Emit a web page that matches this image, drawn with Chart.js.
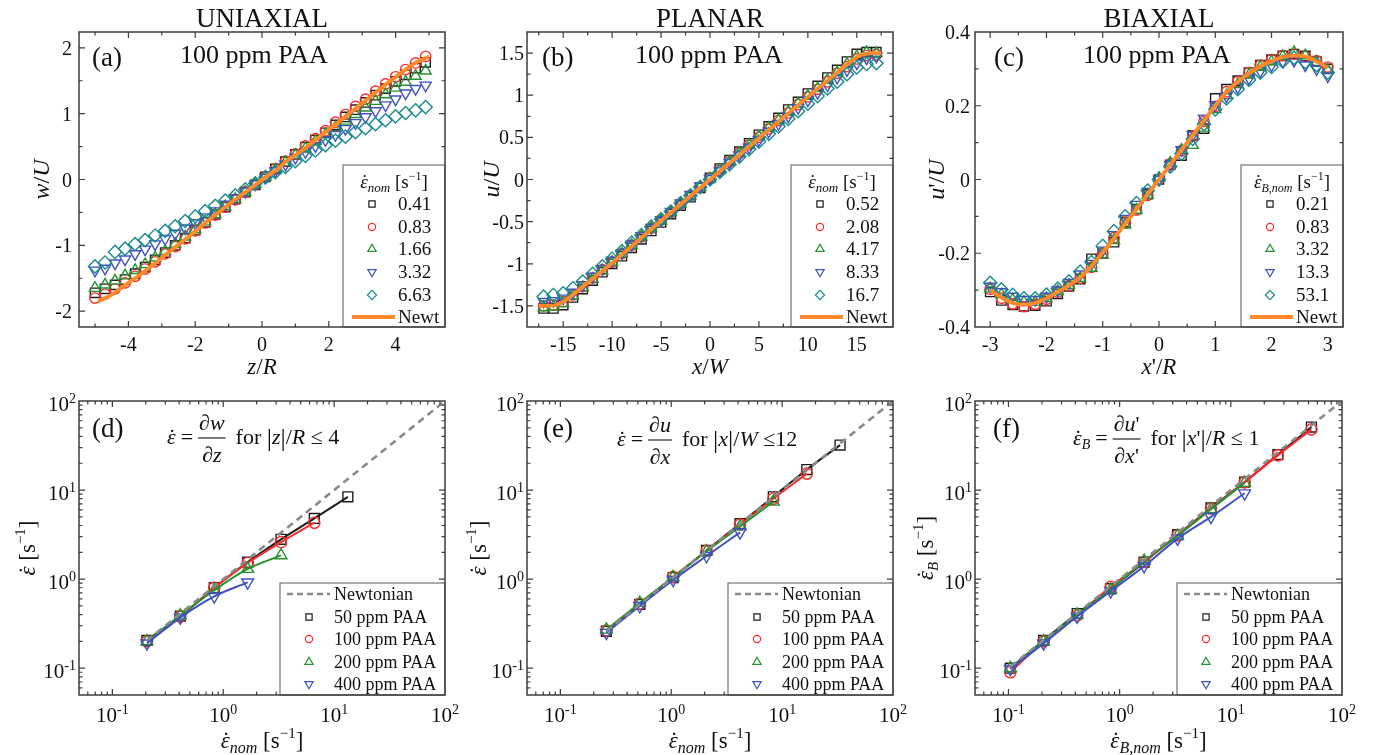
<!DOCTYPE html>
<html>
<head>
<meta charset="utf-8">
<title>Velocity profiles and measured strain rates</title>
<script src="https://cdn.jsdelivr.net/npm/chart.js@4.4.1/dist/chart.umd.min.js"></script>
<style>
  body { margin: 0; background: #fff; }
  #figure { position: relative; width: 1380px; height: 755px; overflow: hidden; background: #fff; }
  #figure canvas { position: absolute; }
</style>
</head>
<body>
<div id="figure">
  <canvas id="chartA" width="460" height="380" style="left:0;top:0"></canvas>
  <canvas id="chartB" width="460" height="380" style="left:460px;top:0"></canvas>
  <canvas id="chartC" width="480" height="380" style="left:900px;top:0"></canvas>
  <canvas id="chartD" width="460" height="375" style="left:0;top:380px"></canvas>
  <canvas id="chartE" width="460" height="375" style="left:460px;top:380px"></canvas>
  <canvas id="chartF" width="480" height="375" style="left:900px;top:380px"></canvas>
</div>
<script>
const SERIF = '"Liberation Serif", "Times New Roman", Times, serif';
const INK = '#111111';
const FRAME = '#3c3c3c';
const C_BLACK = '#1c1c1c', C_RED = '#ff2b2b', C_GREEN = '#23932f', C_BLUE = '#3f51c2',
      C_TEAL = '#198b8b', C_ORANGE = '#ff8a2a', C_GRAY = '#8a8a8a';

// ---- (a) uniaxial, 100 ppm PAA ----
const A_RATES = ['0.41', '0.83', '1.66', '3.32', '6.63'];
const A_Z = [-5.0, -4.7, -4.4, -4.1, -3.8, -3.5, -3.2, -2.9, -2.6, -2.3, -2.0, -1.7, -1.4, -1.1, -0.8, -0.5, -0.2,
             0.1, 0.4, 0.7, 1.0, 1.3, 1.6, 1.9, 2.2, 2.5, 2.8, 3.1, 3.4, 3.7, 4.0, 4.3, 4.6, 4.9];
const A_W_041 = [-1.72, -1.66, -1.60, -1.52, -1.43, -1.33, -1.22, -1.11, -1.00, -0.89, -0.77, -0.65, -0.53, -0.42, -0.30, -0.19, -0.08,
                 0.04, 0.16, 0.27, 0.38, 0.49, 0.60, 0.71, 0.83, 0.95, 1.06, 1.17, 1.28, 1.38, 1.49, 1.59, 1.69, 1.78];
const A_W_083 = [-1.80, -1.74, -1.66, -1.57, -1.47, -1.36, -1.25, -1.13, -1.02, -0.90, -0.78, -0.66, -0.54, -0.42, -0.31, -0.19, -0.07,
                 0.04, 0.16, 0.28, 0.39, 0.51, 0.62, 0.74, 0.87, 0.99, 1.11, 1.22, 1.34, 1.45, 1.56, 1.67, 1.77, 1.87];
const A_W_166 = [-1.65, -1.60, -1.54, -1.46, -1.38, -1.29, -1.19, -1.09, -0.98, -0.87, -0.76, -0.64, -0.53, -0.41, -0.30, -0.19, -0.07,
                 0.04, 0.15, 0.26, 0.37, 0.47, 0.58, 0.68, 0.79, 0.89, 0.99, 1.09, 1.19, 1.29, 1.39, 1.48, 1.57, 1.65];
const A_W_332 = [-1.38, -1.35, -1.27, -1.21, -1.13, -1.06, -0.98, -0.90, -0.82, -0.74, -0.66, -0.57, -0.48, -0.38, -0.28, -0.18, -0.07,
                 0.03, 0.13, 0.23, 0.33, 0.42, 0.51, 0.60, 0.68, 0.77, 0.86, 0.95, 1.04, 1.13, 1.22, 1.31, 1.38, 1.43];
const A_W_663 = [-1.32, -1.26, -1.10, -1.05, -0.98, -0.92, -0.85, -0.78, -0.71, -0.63, -0.56, -0.48, -0.40, -0.32, -0.24, -0.15, -0.06,
                 0.03, 0.11, 0.19, 0.28, 0.36, 0.44, 0.52, 0.59, 0.65, 0.72, 0.78, 0.84, 0.90, 0.96, 1.01, 1.05, 1.10];
const A_NEWT_Z = [-4.9, -4.6, -4.2, -3.8, -3.4, -3.0, -2.6, -2.2, -1.8, -1.4, -1.0, -0.6, -0.2, 0.2, 0.5, 0.7, 1.0,
                  1.4, 1.8, 2.2, 2.6, 3.0, 3.4, 3.8, 4.2, 4.6, 5.0];
const A_NEWT_W = [-1.85, -1.78, -1.64, -1.50, -1.35, -1.19, -1.03, -0.87, -0.70, -0.54, -0.38, -0.23, -0.08, 0.07, 0.17, 0.27, 0.37,
                  0.52, 0.68, 0.84, 1.00, 1.16, 1.32, 1.48, 1.63, 1.77, 1.87];
const A_XTICKS = [-4, -2, 0, 2, 4], A_XMINOR = [-5, -3, -1, 1, 3, 5];
const A_YTICKS = [-2, -1, 0, 1, 2], A_YMINOR = [-1.5, -0.5, 0.5, 1.5];

// ---- (b) planar, 100 ppm PAA ----
const B_RATES = ['0.52', '2.08', '4.17', '8.33', '16.7'];
const B_X = [-17, -16, -15, -14, -13, -12, -11, -10, -9, -8, -7, -6, -5, -4, -3, -2, -1, 0,
             1, 2, 3, 4, 5, 6, 7, 8, 9, 10, 11, 12, 13, 14, 15, 16, 17];
const B_U_052 = [-1.53, -1.53, -1.49, -1.40, -1.30, -1.20, -1.10, -1.00, -0.91, -0.81, -0.71, -0.61, -0.51, -0.41, -0.31, -0.21, -0.10, 0.02,
                 0.13, 0.23, 0.33, 0.43, 0.53, 0.63, 0.73, 0.83, 0.92, 1.02, 1.11, 1.21, 1.30, 1.40, 1.49, 1.51, 1.51];
const B_U_208 = [-1.50, -1.49, -1.45, -1.37, -1.27, -1.17, -1.07, -0.98, -0.88, -0.78, -0.68, -0.58, -0.48, -0.39, -0.29, -0.19, -0.09, 0.01,
                 0.11, 0.21, 0.31, 0.41, 0.50, 0.60, 0.70, 0.79, 0.89, 0.98, 1.07, 1.16, 1.26, 1.34, 1.43, 1.47, 1.48];
const B_U_417 = [-1.52, -1.51, -1.47, -1.38, -1.28, -1.18, -1.08, -0.98, -0.88, -0.78, -0.68, -0.58, -0.49, -0.39, -0.29, -0.19, -0.09, 0.01,
                 0.11, 0.21, 0.31, 0.41, 0.51, 0.61, 0.70, 0.80, 0.90, 0.99, 1.08, 1.18, 1.27, 1.37, 1.46, 1.51, 1.50];
const B_U_833 = [-1.45, -1.44, -1.41, -1.34, -1.25, -1.15, -1.06, -0.96, -0.87, -0.77, -0.67, -0.57, -0.48, -0.38, -0.28, -0.18, -0.08, 0.01,
                 0.10, 0.20, 0.29, 0.38, 0.47, 0.57, 0.66, 0.75, 0.85, 0.94, 1.03, 1.12, 1.21, 1.30, 1.38, 1.44, 1.46];
const B_U_167 = [-1.39, -1.37, -1.35, -1.29, -1.21, -1.12, -1.03, -0.94, -0.85, -0.75, -0.66, -0.56, -0.47, -0.38, -0.28, -0.19, -0.09, 0.00,
                 0.09, 0.18, 0.27, 0.36, 0.45, 0.54, 0.63, 0.72, 0.81, 0.90, 0.99, 1.08, 1.16, 1.25, 1.33, 1.37, 1.38];
const B_NEWT_X = [-17.5, -16.5, -15.5, -14.5, -13, -10, -5, 0, 5, 10, 13, 14.5, 15.5, 16.5, 17.5];
const B_NEWT_U = [-1.50, -1.50, -1.48, -1.41, -1.27, -0.99, -0.49, 0, 0.49, 0.98, 1.27, 1.41, 1.48, 1.50, 1.50];
const B_XTICKS = [-15, -10, -5, 0, 5, 10, 15], B_XMINOR = [-17.5, -12.5, -7.5, -2.5, 2.5, 7.5, 12.5, 17.5];
const B_YTICKS = [-1.5, -1, -0.5, 0, 0.5, 1, 1.5], B_YMINOR = [-1.25, -0.75, -0.25, 0.25, 0.75, 1.25];

// ---- (c) biaxial, 100 ppm PAA ----
const C_RATES = ['0.21', '0.83', '3.32', '13.3', '53.1'];
const C_X = [-3.0, -2.8, -2.6, -2.4, -2.2, -2.0, -1.8, -1.6, -1.4, -1.2, -1.0, -0.8, -0.6, -0.4, -0.2, 0,
             0.2, 0.4, 0.6, 0.8, 1.0, 1.2, 1.4, 1.6, 1.8, 2.0, 2.2, 2.4, 2.6, 2.8, 3.0];
const C_U_021 = [-0.305, -0.328, -0.340, -0.344, -0.342, -0.330, -0.310, -0.290, -0.270, -0.215, -0.200, -0.170, -0.115, -0.080, -0.040, 0.000,
                 0.040, 0.065, 0.120, 0.138, 0.220, 0.245, 0.268, 0.290, 0.310, 0.325, 0.335, 0.340, 0.335, 0.320, 0.300];
const C_U_083 = [-0.298, -0.322, -0.337, -0.345, -0.338, -0.325, -0.305, -0.288, -0.268, -0.238, -0.200, -0.158, -0.118, -0.083, -0.043, 0.000,
                 0.042, 0.078, 0.118, 0.158, 0.198, 0.238, 0.265, 0.290, 0.310, 0.325, 0.336, 0.340, 0.334, 0.322, 0.305];
const C_U_332 = [-0.296, -0.312, -0.326, -0.332, -0.332, -0.322, -0.303, -0.287, -0.268, -0.240, -0.205, -0.165, -0.123, -0.083, -0.042, 0.004,
                 0.045, 0.080, 0.093, 0.140, 0.190, 0.228, 0.258, 0.284, 0.305, 0.320, 0.334, 0.345, 0.336, 0.318, 0.297];
const C_U_133 = [-0.290, -0.305, -0.317, -0.326, -0.326, -0.317, -0.300, -0.280, -0.257, -0.228, -0.192, -0.150, -0.106, -0.068, -0.033, 0.000,
                 0.040, 0.080, 0.120, 0.166, 0.202, 0.226, 0.250, 0.274, 0.294, 0.310, 0.320, 0.322, 0.310, 0.300, 0.280];
const C_U_531 = [-0.280, -0.298, -0.313, -0.322, -0.322, -0.312, -0.296, -0.276, -0.250, -0.224, -0.180, -0.140, -0.100, -0.064, -0.030, 0.000,
                 0.035, 0.070, 0.110, 0.150, 0.190, 0.220, 0.245, 0.270, 0.290, 0.305, 0.320, 0.330, 0.318, 0.310, 0.290];
const C_NEWT_U = [-0.300, -0.320, -0.335, -0.340, -0.335, -0.322, -0.305, -0.287, -0.265, -0.235, -0.198, -0.160, -0.120, -0.080, -0.040, 0.000,
                  0.040, 0.080, 0.120, 0.160, 0.200, 0.237, 0.265, 0.288, 0.307, 0.321, 0.332, 0.336, 0.333, 0.320, 0.303];
const C_XTICKS = [-3, -2, -1, 0, 1, 2, 3], C_XMINOR = [-2.5, -1.5, -0.5, 0.5, 1.5, 2.5];
const C_YTICKS = [-0.4, -0.2, 0, 0.2, 0.4], C_YMINOR = [-0.3, -0.1, 0.1, 0.3];

// ---- (d)-(f) measured vs nominal strain rate ----
const CONC_LABELS = ['50 ppm PAA', '100 ppm PAA', '200 ppm PAA', '400 ppm PAA'];
const D_RATE = [0.205, 0.41, 0.83, 1.66, 3.32, 6.63, 13.3];
const D_50 = [0.205, 0.385, 0.80, 1.55, 2.8, 4.8, 8.4];
const D_100 = [0.20, 0.38, 0.80, 1.52, 2.6, 4.3];
const D_200 = [0.20, 0.39, 0.75, 1.30, 1.85];
const D_400 = [0.19, 0.37, 0.64, 0.92];
const D_NEWT = [0.205, 100];

const E_RATE = [0.26, 0.52, 1.04, 2.08, 4.17, 8.33, 16.7, 33.3];
const E_50 = [0.26, 0.52, 1.04, 2.1, 4.2, 8.4, 17.0, 32];
const E_100 = [0.265, 0.53, 1.06, 2.08, 4.1, 8.0, 15.3];
const E_200 = [0.27, 0.54, 1.05, 2.05, 3.9, 7.4];
const E_400 = [0.25, 0.50, 0.98, 1.82, 3.35];
const E_NEWT = [0.26, 100];

const F_RATE = [0.104, 0.207, 0.415, 0.83, 1.66, 3.32, 6.63, 13.3, 26.5, 53.1];
const F_50 = [0.10, 0.205, 0.41, 0.78, 1.55, 3.15, 6.3, 12.3, 25, 51];
const F_100 = [0.09, 0.20, 0.39, 0.82, 1.56, 3.1, 6.2, 12.2, 24.5, 48];
const F_200 = [0.10, 0.20, 0.40, 0.76, 1.6, 3.05, 6.1, 12.0];
const F_400 = [0.098, 0.19, 0.38, 0.73, 1.4, 2.85, 5.0, 9.2];
const F_NEWT = [0.104, 100];

const LOG_LABELS = [0.1, 1, 10, 100];
const LOG_EXPS = ['-1', '0', '1', '2'];
const LOG_MINOR = [];
[0.01, 0.1, 1, 10].forEach(dec => {
  for (let k = 2; k <= 9; k++) {
    const v = k * dec;
    if (v > 0.05 && v < 100) LOG_MINOR.push(v);
  }
});

const MARKERS = [
  { style: 'rect', rot: 0, color: C_BLACK, r: 6.6, rl: 4.4 },
  { style: 'circle', rot: 0, color: C_RED, r: 5.2, rl: 3.6 },
  { style: 'triangle', rot: 0, color: C_GREEN, r: 6.4, rl: 4.8 },
  { style: 'triangle', rot: 180, color: C_BLUE, r: 6.4, rl: 4.8 },
  { style: 'rectRot', rot: 0, color: C_TEAL, r: 6.6, rl: 4.6 }
];

// ---------- text helpers ----------
const R = (t, s, o = {}) => Object.assign({ t, s }, o);
const eps = s => R('ε', s, { i: true, dot: true });

function setFont(ctx, size, italic) {
  ctx.font = (italic ? 'italic ' : '') + size + 'px ' + SERIF;
}
function runsWidth(ctx, runs) {
  let w = 0;
  runs.forEach(r => { setFont(ctx, r.s, r.i); w += ctx.measureText(r.t).width; });
  return w;
}
function drawRuns(ctx, runs, x, y) {
  ctx.textAlign = 'left';
  ctx.textBaseline = 'alphabetic';
  ctx.fillStyle = INK;
  runs.forEach(r => {
    setFont(ctx, r.s, r.i);
    const w = ctx.measureText(r.t).width;
    ctx.fillText(r.t, x, y + (r.dy || 0));
    if (r.dot) {
      setFont(ctx, r.s, false);
      ctx.textAlign = 'center';
      ctx.fillText('˙', x + w * 0.6, y + (r.dy || 0));
      ctx.textAlign = 'left';
    }
    x += w;
  });
  return x;
}
function drawCentered(ctx, runs, cx, y) {
  drawRuns(ctx, runs, cx - runsWidth(ctx, runs) / 2, y);
}
function drawRight(ctx, runs, rx, y) {
  drawRuns(ctx, runs, rx - runsWidth(ctx, runs), y);
}
function drawRotated(ctx, runs, x, cy) {
  const w = runsWidth(ctx, runs);
  ctx.save();
  ctx.translate(x, cy);
  ctx.rotate(-Math.PI / 2);
  drawRuns(ctx, runs, -w / 2, 0);
  ctx.restore();
}
function drawFormula(ctx, f, x, y) {
  x = drawRuns(ctx, f.lhs, x, y) + 5;
  x = drawRuns(ctx, [R('=', 22)], x, y) + 5;
  const wn = runsWidth(ctx, f.num), wd = runsWidth(ctx, f.den), w = Math.max(wn, wd) + 2;
  drawRuns(ctx, f.num, x + (w - wn) / 2, y - 14);
  drawRuns(ctx, f.den, x + (w - wd) / 2, y + 18);
  ctx.strokeStyle = INK;
  ctx.lineWidth = 1.1;
  ctx.beginPath();
  ctx.moveTo(x, y - 6);
  ctx.lineTo(x + w, y - 6);
  ctx.stroke();
  drawRuns(ctx, f.tail, x + w + 10, y);
}
function drawPower(ctx, exp, x, y, align) {
  setFont(ctx, 21, false);
  const wb = ctx.measureText('10').width;
  setFont(ctx, 14, false);
  const we = ctx.measureText(exp).width;
  const x0 = align === 'center' ? x - (wb + we) / 2 : x - wb - we;
  ctx.fillStyle = INK;
  ctx.textAlign = 'left';
  ctx.textBaseline = 'alphabetic';
  setFont(ctx, 21, false);
  ctx.fillText('10', x0, y);
  setFont(ctx, 14, false);
  ctx.fillText(exp, x0 + wb, y - 8);
}

// ---------- frame, ticks, legend and labels ----------
function makeDecor(p) {
  return {
    id: 'decor',
    afterDraw(chart) {
      const ctx = chart.ctx, a = chart.chartArea;
      const sx = chart.scales.x, sy = chart.scales.y;
      ctx.save();

      // inward ticks on all four sides
      ctx.strokeStyle = FRAME;
      ctx.lineWidth = 1.2;
      ctx.beginPath();
      const tickX = (vals, len) => vals.forEach(v => {
        const px = sx.getPixelForValue(v);
        if (px <= a.left + 1 || px >= a.right - 1) return;
        ctx.moveTo(px, a.bottom); ctx.lineTo(px, a.bottom - len);
        ctx.moveTo(px, a.top); ctx.lineTo(px, a.top + len);
      });
      const tickY = (vals, len) => vals.forEach(v => {
        const py = sy.getPixelForValue(v);
        if (py <= a.top + 1 || py >= a.bottom - 1) return;
        ctx.moveTo(a.left, py); ctx.lineTo(a.left + len, py);
        ctx.moveTo(a.right, py); ctx.lineTo(a.right - len, py);
      });
      tickX(p.x.major, 6); tickX(p.x.minor, 3.5);
      tickY(p.y.major, 6); tickY(p.y.minor, 3.5);
      ctx.stroke();

      // legend box in the lower right corner
      const L = p.legend;
      const bx = a.right - L.w, by = L.top;
      ctx.fillStyle = '#fff';
      ctx.fillRect(bx, by, a.right - bx, a.bottom - by);
      ctx.strokeStyle = '#747474';
      ctx.lineWidth = 1.2;
      ctx.strokeRect(bx, by, a.right - bx, a.bottom - by);
      if (L.title) drawCentered(ctx, L.title, bx + (a.right - bx) / 2, by + L.titleY);
      L.rows.forEach((row, i) => {
        const cy = by + L.rowY[i];
        if (row.line) {
          ctx.strokeStyle = row.color;
          ctx.lineWidth = row.width;
          ctx.setLineDash(row.dash || []);
          ctx.beginPath();
          ctx.moveTo(bx + L.line0, cy);
          ctx.lineTo(bx + L.line1, cy);
          ctx.stroke();
          ctx.setLineDash([]);
        } else {
          ctx.strokeStyle = row.m.color;
          ctx.fillStyle = 'rgba(0,0,0,0)';
          ctx.lineWidth = 1.2;
          Chart.helpers.drawPoint(ctx, { pointStyle: row.m.style, rotation: row.m.rot, radius: row.m.rl, borderWidth: 1.2 }, bx + L.markX, cy);
        }
        drawRuns(ctx, [R(row.label, L.size)], bx + L.textX, cy + L.base);
      });

      // plot frame
      ctx.strokeStyle = FRAME;
      ctx.lineWidth = 1.5;
      ctx.strokeRect(a.left, a.top, a.right - a.left, a.bottom - a.top);

      // tick labels
      if (p.log) {
        LOG_LABELS.forEach((v, i) => {
          drawPower(ctx, LOG_EXPS[i], sx.getPixelForValue(v), a.bottom + 27, 'center');
          drawPower(ctx, LOG_EXPS[i], a.left - 3, sy.getPixelForValue(v) + 10, 'right');
        });
      } else {
        p.x.major.forEach(v => drawCentered(ctx, [R(String(v), 20)], sx.getPixelForValue(v), a.bottom + 24));
        p.y.major.forEach(v => drawRight(ctx, [R(String(v), 20)], a.left - p.y.gap, sy.getPixelForValue(v) + 7));
      }

      const cx = (a.left + a.right) / 2;
      if (p.title) drawCentered(ctx, [R(p.title, 27)], cx, 27);
      drawRuns(ctx, [R(p.letter.t, 27)], p.letter.x, p.letter.y);
      if (p.note) drawRuns(ctx, [R(p.note.t, 26)], p.note.x, p.note.y);
      if (p.formula) drawFormula(ctx, p.formula, p.formula.x, p.formula.y);
      drawCentered(ctx, p.xTitle.runs, cx, p.xTitle.y);
      drawRotated(ctx, p.yTitle.runs, p.yTitle.x, (a.top + a.bottom) / 2);
      ctx.restore();
    }
  };
}

// ---------- datasets ----------
const toXY = (xs, ys) => ys.map((y, i) => ({ x: xs[i], y }));

function profileSets(xs, series, newtX, newtY) {
  const sets = [{
    label: 'Newt', data: toXY(newtX, newtY), showLine: true, pointRadius: 0,
    borderColor: C_ORANGE, borderWidth: 3.8, cubicInterpolationMode: 'monotone', order: 0
  }];
  series.forEach((ys, i) => {
    const m = MARKERS[i];
    sets.push({
      data: toXY(xs, ys), showLine: false, order: 5 - i,
      pointStyle: m.style, pointRotation: m.rot, pointRadius: m.r,
      pointBorderColor: m.color, pointBackgroundColor: 'rgba(0,0,0,0)', pointBorderWidth: 1.4,
      borderColor: m.color
    });
  });
  return sets;
}

function rateSets(xs, series, newt) {
  const sets = [{
    label: 'Newtonian', data: toXY(newt, newt), showLine: true, pointRadius: 0,
    borderColor: C_GRAY, borderWidth: 2.6, borderDash: [7, 5], order: 0
  }];
  series.forEach((ys, i) => {
    const m = MARKERS[i];
    sets.push({
      label: CONC_LABELS[i], data: toXY(xs, ys), showLine: true, order: 4 - i,
      borderColor: m.color, borderWidth: 2, cubicInterpolationMode: 'monotone',
      pointStyle: m.style, pointRotation: m.rot, pointRadius: m.r + 0.4,
      pointBorderColor: m.color, pointBackgroundColor: 'rgba(0,0,0,0)', pointBorderWidth: 1.4
    });
  });
  return sets;
}

function topLegend(rates, title) {
  const rows = rates.map((t, i) => ({ m: MARKERS[i], label: t }));
  rows.push({ line: true, color: C_ORANGE, width: 3.8, label: 'Newt' });
  return { w: 102, top: 165, title, titleY: 23, rows, rowY: [39, 62, 84, 107, 130, 152],
           markX: 29, textX: 55, line0: 9, line1: 52, base: 6, size: 19 };
}
function rateLegend() {
  const rows = [{ line: true, color: C_GRAY, width: 2.6, dash: [6, 4], label: 'Newtonian' }];
  CONC_LABELS.forEach((t, i) => rows.push({ m: MARKERS[i], label: t }));
  return { w: 165, top: 203, rows, rowY: [11, 34, 56, 79, 101],
           markX: 29, textX: 54, line0: 7, line1: 50, base: 6, size: 18 };
}

// ---------- chart construction ----------
function axis(kind, range, fit) {
  return {
    type: kind, min: range.min, max: range.max,
    grid: { display: false, drawTicks: false },
    border: { display: false },
    ticks: { display: false },
    afterFit: fit
  };
}

function makePanel(id, p) {
  const canvas = document.getElementById(id);
  const W = canvas.width, H = canvas.height;
  const kind = p.log ? 'logarithmic' : 'linear';
  return new Chart(canvas, {
    type: 'line',
    data: { datasets: p.datasets },
    options: {
      responsive: false,
      animation: false,
      events: [],
      layout: { padding: { left: 0, right: W - p.area.right, top: p.area.top, bottom: 0 } },
      plugins: { legend: { display: false }, tooltip: { enabled: false } },
      scales: {
        x: axis(kind, p.x, s => { s.height = H - p.area.bottom; }),
        y: axis(kind, p.y, s => { s.width = p.area.left; })
      }
    },
    plugins: [makeDecor(p)]
  });
}

const NOM_TITLE = [eps(19), R('nom', 13, { i: true, dy: 4 }), R(' [s', 19), R('−1', 12, { dy: -8 }), R(']', 19)];
const B_NOM_TITLE = [eps(19), R('B,nom', 12, { i: true, dy: 4 }), R(' [s', 19), R('−1', 12, { dy: -8 }), R(']', 19)];
const NOM_X = [eps(23), R('nom', 16, { i: true, dy: 5 }), R(' [s', 23), R('−1', 15, { dy: -10 }), R(']', 23)];
const B_NOM_X = [eps(23), R('B,nom', 16, { i: true, dy: 5 }), R(' [s', 23), R('−1', 15, { dy: -10 }), R(']', 23)];
const EPS_Y = [eps(23), R(' [s', 23), R('−1', 15, { dy: -10 }), R(']', 23)];
const B_EPS_Y = [eps(23), R('B', 15, { i: true, dy: 5 }), R(' [s', 23), R('−1', 15, { dy: -10 }), R(']', 23)];
const bar = () => R('|', 26, { dy: 2 });

makePanel('chartA', {
  area: { left: 79, right: 445, top: 32, bottom: 327 },
  x: { min: -5.48, max: 5.48, major: A_XTICKS, minor: A_XMINOR },
  y: { min: -2.24, max: 2.24, major: A_YTICKS, minor: A_YMINOR, gap: 7 },
  datasets: profileSets(A_Z, [A_W_041, A_W_083, A_W_166, A_W_332, A_W_663], A_NEWT_Z, A_NEWT_W),
  title: 'UNIAXIAL', letter: { t: '(a)', x: 92, y: 66 }, note: { t: '100 ppm PAA', x: 180, y: 63 },
  xTitle: { runs: [R('z', 23, { i: true }), R('/', 23), R('R', 23, { i: true })], y: 374 },
  yTitle: { runs: [R('w', 24, { i: true }), R('/', 24), R('U', 24, { i: true })], x: 49 },
  legend: topLegend(A_RATES, NOM_TITLE)
});

makePanel('chartB', {
  area: { left: 67, right: 433, top: 32, bottom: 327 },
  x: { min: -18.7, max: 18.7, major: B_XTICKS, minor: B_XMINOR },
  y: { min: -1.75, max: 1.75, major: B_YTICKS, minor: B_YMINOR, gap: 3 },
  datasets: profileSets(B_X, [B_U_052, B_U_208, B_U_417, B_U_833, B_U_167], B_NEWT_X, B_NEWT_U),
  title: 'PLANAR', letter: { t: '(b)', x: 82, y: 66 }, note: { t: '100 ppm PAA', x: 175, y: 63 },
  xTitle: { runs: [R('x', 23, { i: true }), R('/', 23), R('W', 23, { i: true })], y: 374 },
  yTitle: { runs: [R('u', 24, { i: true }), R('/', 24), R('U', 24, { i: true })], x: 39 },
  legend: topLegend(B_RATES, NOM_TITLE)
});

makePanel('chartC', {
  area: { left: 75, right: 443, top: 32, bottom: 327 },
  x: { min: -3.27, max: 3.27, major: C_XTICKS, minor: C_XMINOR },
  y: { min: -0.4, max: 0.4, major: C_YTICKS, minor: C_YMINOR, gap: 5 },
  datasets: profileSets(C_X, [C_U_021, C_U_083, C_U_332, C_U_133, C_U_531], C_X, C_NEWT_U),
  title: 'BIAXIAL', letter: { t: '(c)', x: 94, y: 66 }, note: { t: '100 ppm PAA', x: 183, y: 63 },
  xTitle: { runs: [R('x', 23, { i: true }), R("'", 23), R('/', 23), R('R', 23, { i: true })], y: 374 },
  yTitle: { runs: [R('u', 24, { i: true }), R("'", 24), R('/', 24), R('U', 24, { i: true })], x: 44 },
  legend: topLegend(C_RATES, B_NOM_TITLE)
});

const LOG_RANGE = () => ({ min: 0.05, max: 100, major: [0.1, 1, 10], minor: LOG_MINOR });

makePanel('chartD', {
  log: true,
  area: { left: 79, right: 445, top: 21, bottom: 315 },
  x: LOG_RANGE(), y: LOG_RANGE(),
  datasets: rateSets(D_RATE, [D_50, D_100, D_200, D_400], D_NEWT),
  letter: { t: '(d)', x: 92, y: 57 },
  formula: {
    x: 167, y: 64,
    lhs: [eps(22)],
    num: [R('∂', 22), R('w', 22, { i: true })],
    den: [R('∂', 22), R('z', 22, { i: true })],
    tail: [R('for ', 22), bar(), R('z', 22, { i: true }), bar(), R('/', 22), R('R', 22, { i: true }), R(' ≤ 4', 22)]
  },
  xTitle: { runs: NOM_X, y: 368 },
  yTitle: { runs: EPS_Y, x: 35 },
  legend: rateLegend()
});

makePanel('chartE', {
  log: true,
  area: { left: 67, right: 433, top: 21, bottom: 315 },
  x: LOG_RANGE(), y: LOG_RANGE(),
  datasets: rateSets(E_RATE, [E_50, E_100, E_200, E_400], E_NEWT),
  letter: { t: '(e)', x: 83, y: 57 },
  formula: {
    x: 157, y: 66,
    lhs: [eps(22)],
    num: [R('∂', 22), R('u', 22, { i: true })],
    den: [R('∂', 22), R('x', 22, { i: true })],
    tail: [R('for ', 22), bar(), R('x', 22, { i: true }), bar(), R('/', 22), R('W', 22, { i: true }), R(' ≤12', 22)]
  },
  xTitle: { runs: NOM_X, y: 368 },
  yTitle: { runs: EPS_Y, x: 26 },
  legend: rateLegend()
});

makePanel('chartF', {
  log: true,
  area: { left: 75, right: 442, top: 21, bottom: 315 },
  x: LOG_RANGE(), y: LOG_RANGE(),
  datasets: rateSets(F_RATE, [F_50, F_100, F_200, F_400], F_NEWT),
  letter: { t: '(f)', x: 93, y: 57 },
  formula: {
    x: 173, y: 65,
    lhs: [eps(22), R('B', 14, { i: true, dy: 4 })],
    num: [R('∂', 22), R('u', 22, { i: true }), R("'", 22)],
    den: [R('∂', 22), R('x', 22, { i: true }), R("'", 22)],
    tail: [R('for ', 22), bar(), R('x', 22, { i: true }), R("'", 22), bar(), R('/', 22), R('R', 22, { i: true }), R(' ≤ 1', 22)]
  },
  xTitle: { runs: B_NOM_X, y: 368 },
  yTitle: { runs: B_EPS_Y, x: 33 },
  legend: rateLegend()
});
</script>
</body>
</html>
